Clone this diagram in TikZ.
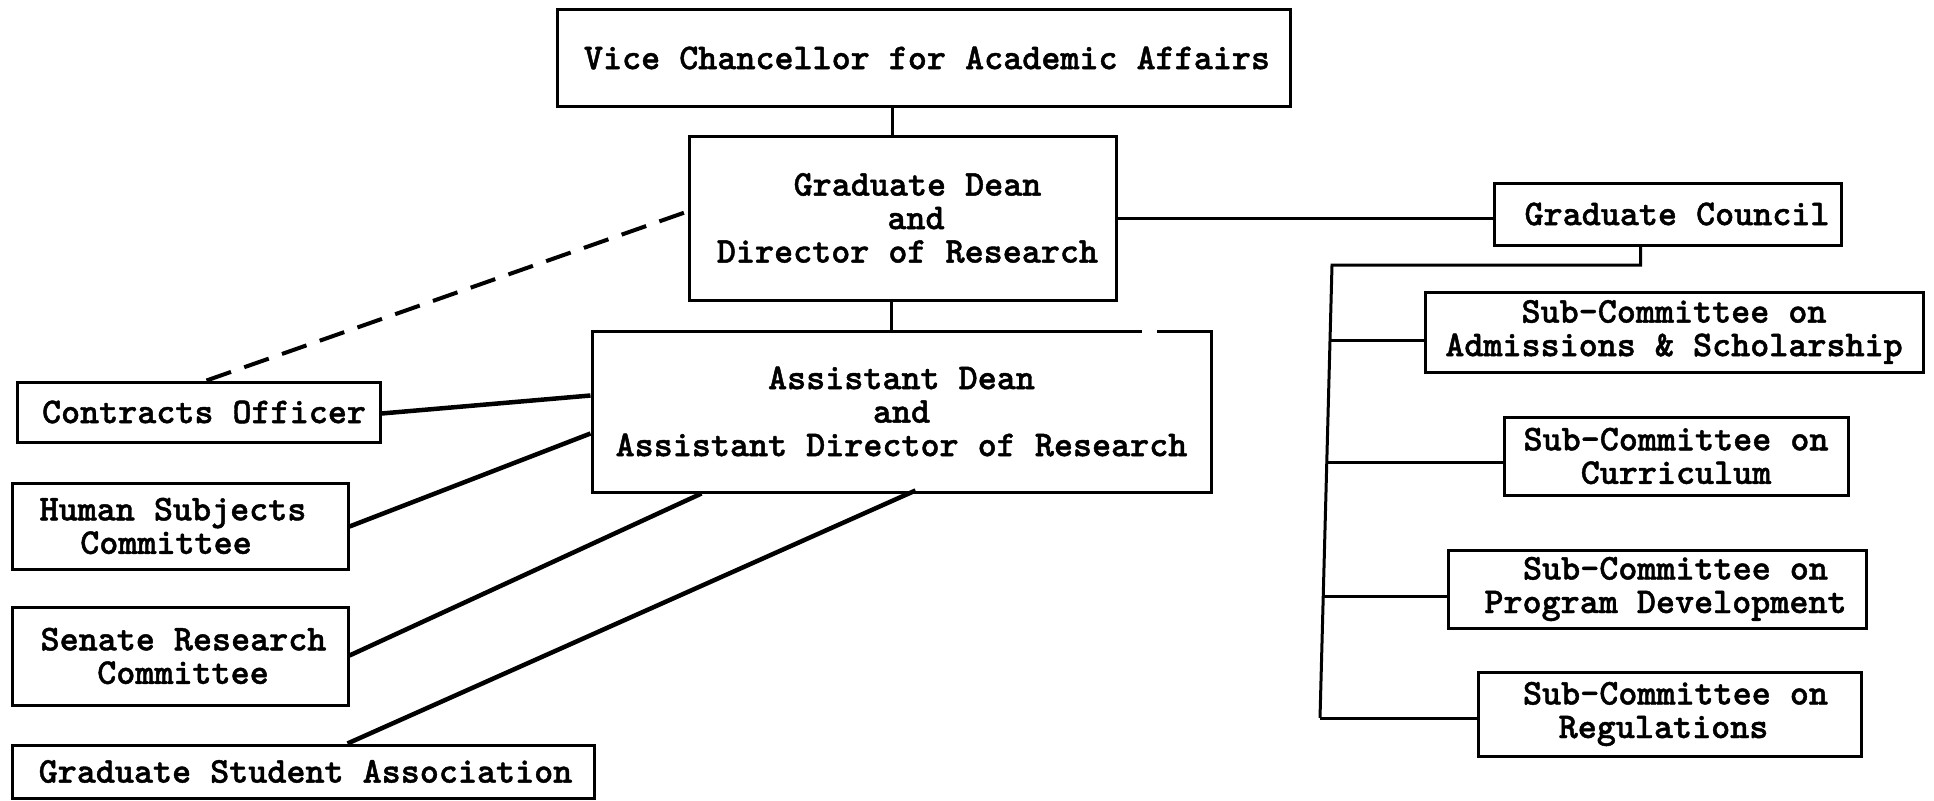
\documentclass[tikz,border=0pt]{standalone}
\usepackage{fontspec}
\newfontfamily\typewriter{lmmonolt10-bold.otf}[FakeBold=1.2]
\usetikzlibrary{calc}
% pad a typed line on one side so that it sits off-centre
\newcommand\padL[1]{\hspace*{#1pt}}
\begin{document}
\begin{tikzpicture}[x=1pt,y=-1pt,
  box/.style={draw, line width=3pt, inner sep=0pt, align=center,
    font=\typewriter\fontsize{36.3}{33.5}\selectfont},
  link/.style={line width=3pt},
  heavy/.style={line width=4.5pt},
  dotted link/.style={line width=4pt, dash pattern=on 26pt off 14pt},
]
\useasboundingbox[fill=white] (0,0) rectangle (1934,800);

% central chain
\node[box, minimum width=733pt, minimum height=96pt] (vc) at (923.5,58)
  {\padL{7}Vice Chancellor for Academic Affairs};
\node[box, minimum width=427pt, minimum height=164pt] (gd) at (902.5,218)
  {\padL{30}Graduate Dean\\\padL{27}and\\\padL{10}Director of Research};
\node[box, minimum width=619pt, minimum height=161pt] (ad) at (901.5,411.5)
  {Assistant Dean\\and\\Assistant Director of Research};

% left-hand offices and committees
\node[box, minimum width=363pt, minimum height=60pt] (co) at (198.5,412)
  {\padL{11}Contracts Officer};
\node[box, minimum width=336pt, minimum height=86pt] (hs) at (180,526)
  {Human Subjects\padL{14}\\Committee\padL{28}};
\node[box, minimum width=336pt, minimum height=98pt] (sr) at (180,656)
  {\padL{7}Senate Research\\\padL{6}Committee};
\node[box, minimum width=582pt, minimum height=53pt] (gsa) at (303,771.5)
  {\padL{5}Graduate Student Association};

% council and sub-committees
\node[box, minimum width=347pt, minimum height=62pt] (gc) at (1667.5,214)
  {\padL{19}Graduate Council};
\node[box, minimum width=498pt, minimum height=80pt] (adm) at (1674,332)
  {Sub-Committee on\\Admissions \& Scholarship};
\node[box, minimum width=344pt, minimum height=78pt] (cur) at (1676,456)
  {Sub-Committee on\\Curriculum};
\node[box, minimum width=418pt, minimum height=78pt] (prg) at (1657,589)
  {\padL{37}Sub-Committee on\\\padL{17}Program Development};
\node[box, minimum width=383pt, minimum height=84pt] (reg) at (1669.5,714)
  {\padL{12}Sub-Committee on\\Regulations\padL{12}};

% break in the top rule of the assistant dean's box
\draw[white, line width=6pt] ($(ad.north west)+(551,1.5)$) -- ++(15,0);

% vertical line of command
\draw[link] ($(vc.south west)+(337,0)$) -- ($(gd.north west)+(205,0)$);
\draw[link] ($(gd.south west)+(204,0)$) -- ($(ad.north west)+(301,0)$);
\draw[link] (gd.east) -- (gd.east -| gc.west);

% staff relations to the assistant dean
\draw[dotted link] ($(co.north west)+(191,0)$) -- ($(gd.north west)+(0,77)$);
\draw[heavy] ($(co.north east)+(0,33)$) -- ($(ad.north west)+(0,66)$);
\draw[heavy] ($(hs.north east)+(0,45)$) -- ($(ad.north west)+(0,104)$);
\draw[heavy] ($(sr.north east)+(0,50)$) -- ($(ad.south west)+(111,0)$);
\draw[heavy] ($(gsa.north west)+(337,0)$) -- ($(ad.south west)+(325,-3)$);

% council bracket
\coordinate (spt) at (1332,265);
\coordinate (spb) at (1320,718);
\coordinate (b1) at ($(spt)!0.1656!(spb)$);
\coordinate (b2) at ($(spt)!0.4349!(spb)$);
\coordinate (b3) at ($(spt)!0.7307!(spb)$);
\draw[link] ($(gc.south west)+(148,0)$) |- (spt) -- (spb);
\draw[link] (b1) -- (b1 -| adm.west);
\draw[link] (b2) -- (b2 -| cur.west);
\draw[link] (b3) -- (b3 -| prg.west);
\draw[link] (spb) -- (spb -| reg.west);
\end{tikzpicture}
\end{document}
